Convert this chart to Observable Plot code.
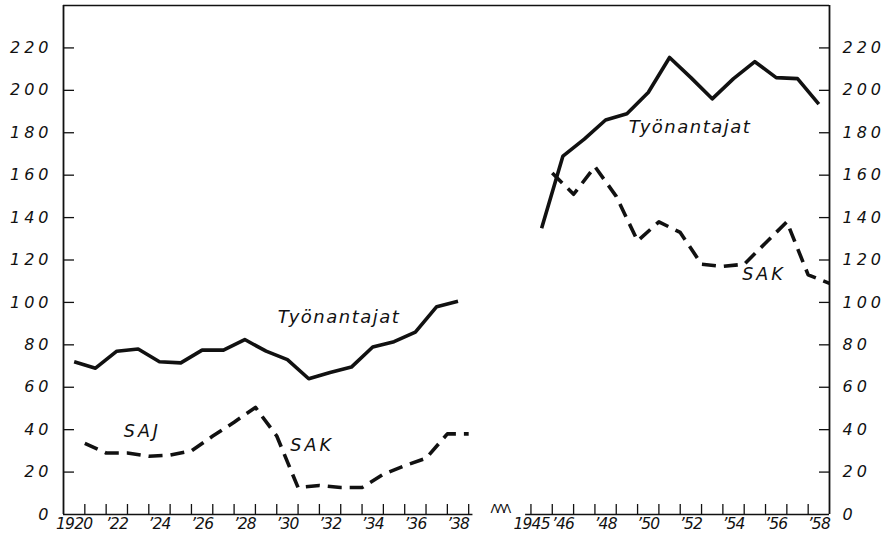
<!DOCTYPE html>
<html>
<head>
<meta charset="utf-8">
<script src="https://cdn.jsdelivr.net/npm/d3@7"></script>
<script src="https://cdn.jsdelivr.net/npm/@observablehq/plot@0.6"></script>
<style>
  html, body { margin: 0; padding: 0; background: #fff; }
  #chart svg { display: block; }
  /* letter spacing per text group (groups distinguished by font-size) */
  #chart g[font-size="16"] { letter-spacing: 4px; }
  #chart g[font-size="15.5"] { letter-spacing: -0.8px; }
  #chart g[font-size="18"] { letter-spacing: 1.5px; }
  #chart g[font-size="17.5"] { letter-spacing: 3px; }
  #chart g[font-size="12"] { letter-spacing: -2px; }
</style>
</head>
<body>
<div id="chart"></div>
<script>
// ---------- data ----------
const yearsPre  = [1920,1921,1922,1923,1924,1925,1926,1927,1928,1929,1930,1931,1932,1933,1934,1935,1936,1937,1938];
const tyoPre    = [72, 69, 77, 78, 72, 71.5, 77.5, 77.5, 82.5, 77, 73, 64, 67, 69.5, 79, 81.5, 86, 98, 100.5];
const sakPre    = [33.5, 29, 29, 27.5, 28, 30, 37, 43.5, 50.5, 37, 12.7, 13.7, 12.7, 12.7, 19, 23, 26.5, 38, 38];
const yearsPost = [1945,1946,1947,1948,1949,1950,1951,1952,1953,1954,1955,1956,1957,1958];
const tyoPost   = [135, 169, 177, 186, 189, 199, 215.5, 206, 196, 205.5, 213.5, 206, 205.5, 193.5];
const sakPost   = [161, 151, 164, 150, 129, 138, 133, 118, 117, 118, 128, 138, 113, 109];
const yTicks    = [0, 20, 40, 60, 80, 100, 120, 140, 160, 180, 200, 220];
const xLabelYears = [1920, 1922, 1924, 1926, 1928, 1930, 1932, 1934, 1936, 1938,
                     1945, 1946, 1948, 1950, 1952, 1954, 1956, 1958];
const xLabelTexts = ["1920", "’22", "’24", "’26", "’28", "’30", "’32", "’34", "’36", "’38",
                     "1945", "’46", "’48", "’50", "’52", "’54", "’56", "’58"];
const seriesLabelTexts  = ["Työnantajat", "Työnantajat", "SAJ", "SAK", "SAK"];
const seriesLabelYears  = [1932.42, 1951.96, 1923.2, 1931.16, 1955.43];
const seriesLabelValues = [93, 182.5, 39, 32.5, 113.2];

// ---------- broken time axis ----------
const PANEL_GAP = 2.92;               // blank years between the two panels
const pos = (year) => year < 1941 ? year - 1920 : year - 1945 + 19 + PANEL_GAP;
// Työnantajat values are plotted mid-year, SAK/SAJ values at year end
const tyo = [
  ...yearsPre.map((year, i) => ({year, value: tyoPre[i], panel: "pre"})),
  ...yearsPost.map((year, i) => ({year, value: tyoPost[i], panel: "post"}))
];
const sak = [
  ...yearsPre.map((year, i) => ({year: year + 0.5, value: sakPre[i], panel: "pre"})),
  ...yearsPost.map((year, i) => ({year: year + 0.5, value: sakPost[i], panel: "post"}))
];
const xTickYears = [...yearsPre.map(y => y + 0.5), ...yearsPost.map(y => y - 0.5)];
const xLabels = xLabelYears.map((year, i) => ({year, label: xLabelTexts[i]}));
const xLabelsMain = xLabels.filter(d => d.year !== yearsPost[0]);
const xLabelsPostStart = xLabels.filter(d => d.year === yearsPost[0]);
const seriesLabels = seriesLabelTexts.map((text, i) => ({text, year: seriesLabelYears[i], value: seriesLabelValues[i]}));

const W = 891, H = 542, mL = 63, mR = 62, mT = 5, mB = 28;
const plotW = W - mL - mR, plotH = H - mT - mB;
const xDomain = [pos(1919.5), pos(1958.5)];
const baseSegments = [
  {x1: pos(1919.5), x2: pos(1938.5) + 0.2},
  {x1: pos(1944.5) - 0.25, x2: pos(1958.5)}
];
const breakMark = [{x: (pos(1938.5) + pos(1944.5)) / 2}];

const ink = "#111";
const font = "'DejaVu Sans', 'Liberation Sans', sans-serif";

const xLabelStyle = {frameAnchor: "bottom", dy: 14, fontSize: 15.5, fontStyle: "italic", fontFamily: font, fill: ink};

const chart = Plot.plot({
  width: W, height: H,
  marginLeft: mL, marginRight: mR, marginTop: mT, marginBottom: mB,
  x: {type: "linear", domain: xDomain, axis: null},
  y: {type: "linear", domain: [0, 240], axis: null},
  style: {background: "#fff", color: ink, overflow: "visible"},
  marks: [
    // frame
    Plot.ruleX(xDomain, {stroke: ink, strokeWidth: 1.8}),
    Plot.ruleY([240], {stroke: ink, strokeWidth: 1.4}),
    Plot.ruleY(baseSegments, {y: 0, x1: "x1", x2: "x2", stroke: ink, strokeWidth: 1.5}),
    // ticks
    Plot.tickX(xTickYears, {x: d => pos(d), insetTop: plotH - 10, stroke: ink, strokeWidth: 1.3}),
    Plot.tickY(yTicks.slice(1), {y: d => d, insetRight: plotW - 11, stroke: ink, strokeWidth: 1.3}),
    Plot.tickY(yTicks.slice(1), {y: d => d, insetLeft: plotW - 10, stroke: ink, strokeWidth: 1.3}),
    // tick labels
    Plot.text(yTicks, {y: d => d, text: d => String(d), frameAnchor: "left", textAnchor: "end", dx: -11,
      fontSize: 16, fontStyle: "italic", fontFamily: font, fill: ink}),
    Plot.text(yTicks, {y: d => d, text: d => String(d), frameAnchor: "right", textAnchor: "start", dx: 13,
      fontSize: 16, fontStyle: "italic", fontFamily: font, fill: ink}),
    Plot.text(xLabelsMain, {x: d => pos(d.year), text: "label", ...xLabelStyle}),
    Plot.text(xLabelsPostStart, {x: d => pos(d.year), text: "label", ...xLabelStyle, dx: -10}),
    Plot.text(breakMark, {x: "x", text: () => "ΛΛΛ", frameAnchor: "bottom", dy: -2,
      fontSize: 12, fontFamily: font, fill: ink}),
    // series
    Plot.line(tyo, {x: d => pos(d.year), y: "value", z: "panel", stroke: ink, strokeWidth: 3.6,
      strokeLinejoin: "round", strokeLinecap: "butt"}),
    Plot.line(sak, {x: d => pos(d.year), y: "value", z: "panel", stroke: ink, strokeWidth: 3.6,
      strokeDasharray: "14,8", strokeLinejoin: "round", strokeLinecap: "butt"}),
    // series labels
    Plot.text(seriesLabels.slice(0, 2), {x: d => pos(d.year), y: "value", text: "text",
      fontSize: 18, fontStyle: "italic", fontFamily: font, fill: ink}),
    Plot.text(seriesLabels.slice(2), {x: d => pos(d.year), y: "value", text: "text",
      fontSize: 17.5, fontStyle: "italic", fontFamily: font, fill: ink})
  ]
});
document.getElementById("chart").appendChild(chart);
</script>
</body>
</html>
